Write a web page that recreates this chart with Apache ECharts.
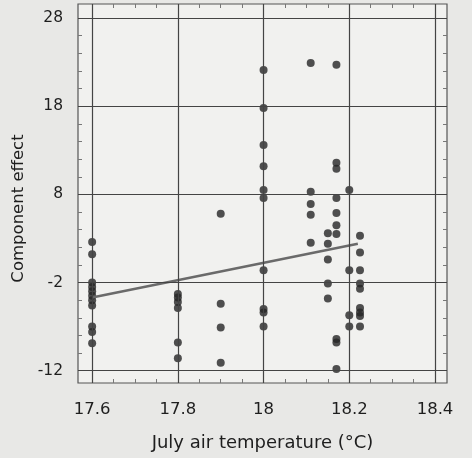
<!DOCTYPE html>
<html>
<head>
<meta charset="utf-8">
<script src="https://cdn.jsdelivr.net/npm/echarts@6/dist/echarts.min.js"></script>
<style>
  html, body { margin: 0; padding: 0; background: #e8e8e6; }
  #chart { width: 472px; height: 458px; }
</style>
</head>
<body>
<div id="chart"></div>
<script>
// Tick labels
const xTicks = [17.6, 17.8, 18, 18.2, 18.4];
const yTicks = [-12, -2, 8, 18, 28];

// Observations, grouped by July air temperature (°C)
const t176 = [2.6, 1.2, -2.0, -2.5, -3.0, -3.5, -4.0, -4.6, -7.0, -7.6, -8.9];
const t178 = [-3.3, -3.7, -4.2, -4.9, -8.8, -10.6];
const t179 = [5.8, -4.4, -7.1, -11.1];
const t180 = [22.1, 17.8, 13.6, 11.2, 8.5, 7.6, -0.6, -5.0, -5.4, -7.0];
const t181 = [22.9, 8.3, 6.9, 5.7, 2.5];
const t1815 = [3.6, 2.4, 0.6, -2.1, -3.8];
const t1817 = [22.7, 11.6, 10.9, 7.6, 5.9, 4.5, 3.5, -8.4, -8.8, -11.8];
const t182 = [8.5, -0.6, -5.7, -7.0];
const t1822 = [3.3, 1.4, -0.6, -2.1, -2.7, -4.9, -5.4, -5.8, -7.0];

const groups = [
  [17.6, t176], [17.8, t178], [17.9, t179], [18.0, t180], [18.11, t181],
  [18.15, t1815], [18.17, t1817], [18.2, t182], [18.225, t1822]
];

// Fitted trend line end points
const trendX = [17.6, 18.22];
const trendY = [-3.7, 2.4];

const points = [];
groups.forEach(([x, vals]) => vals.forEach(v => points.push([x, v])));

// Minor tick positions along each axis
const xMinor = [];
for (let i = 0; i <= 16; i++) xMinor.push(+(17.6 + i * 0.05).toFixed(2));
const yMinor = [];
for (let v = -12; v <= 28; v += 2) yMinor.push(v);

const font = 'DejaVu Sans';
const ink = '#1e1e1e';
const gridColor = '#444';
const tickStyle = { color: '#777', width: 1 };

const chart = echarts.init(document.getElementById('chart'));
chart.setOption({
  animation: false,
  backgroundColor: '#e8e8e6',
  grid: {
    left: 78, right: 25, top: 4, bottom: 75,
    show: true, backgroundColor: '#f1f1ef',
    borderColor: '#555', borderWidth: 1.2
  },
  xAxis: [
    {
      type: 'value', min: 17.567, max: 18.428,
      name: 'July air temperature (°C)', nameLocation: 'middle', nameGap: 51,
      nameTextStyle: { fontFamily: font, fontSize: 18, color: ink },
      axisLine: { show: false, onZero: false },
      splitLine: { show: false },
      axisTick: { show: true, inside: true, length: 4, customValues: xMinor, lineStyle: tickStyle },
      axisLabel: { customValues: xTicks, margin: 18, fontFamily: font,
                   fontSize: 16.5, color: ink,
                   formatter: v => String(+v.toFixed(1)) }
    },
    {
      type: 'value', position: 'top', min: 17.567, max: 18.428,
      axisLine: { show: false, onZero: false }, splitLine: { show: false },
      axisTick: { show: true, inside: true, length: 4, customValues: xMinor, lineStyle: tickStyle },
      axisLabel: { show: false }
    }
  ],
  yAxis: [
    {
      type: 'value', min: -13.4, max: 29.6,
      name: 'Component effect', nameLocation: 'middle', nameGap: 48,
      nameTextStyle: { fontFamily: font, fontSize: 16.5, color: ink, padding: [0, 30, 0, 0] },
      axisLine: { show: false, onZero: false }, splitLine: { show: false },
      axisTick: { show: true, inside: true, length: 4, customValues: yMinor, lineStyle: tickStyle },
      axisLabel: { customValues: yTicks, margin: 15, fontFamily: font,
                   fontSize: 15.5, color: ink }
    },
    {
      type: 'value', position: 'right', min: -13.4, max: 29.6,
      axisLine: { show: false, onZero: false }, splitLine: { show: false },
      axisTick: { show: true, inside: true, length: 4, customValues: yMinor, lineStyle: tickStyle },
      axisLabel: { show: false }
    }
  ],
  series: [
    {
      // Major grid lines
      type: 'line', data: [], silent: true,
      markLine: {
        silent: true, symbol: 'none', label: { show: false },
        lineStyle: { color: gridColor, width: 1.2, type: 'solid' },
        data: xTicks.map(v => ({ xAxis: v })).concat(yTicks.map(v => ({ yAxis: v })))
      }
    },
    {
      type: 'scatter', data: points, symbol: 'circle', symbolSize: 8,
      itemStyle: { color: '#262626' }, z: 3
    },
    {
      type: 'line', data: trendX.map((x, i) => [x, trendY[i]]),
      symbol: 'none', lineStyle: { color: '#6a6a6a', width: 2.5 }, z: 4
    }
  ]
});
</script>
</body>
</html>
